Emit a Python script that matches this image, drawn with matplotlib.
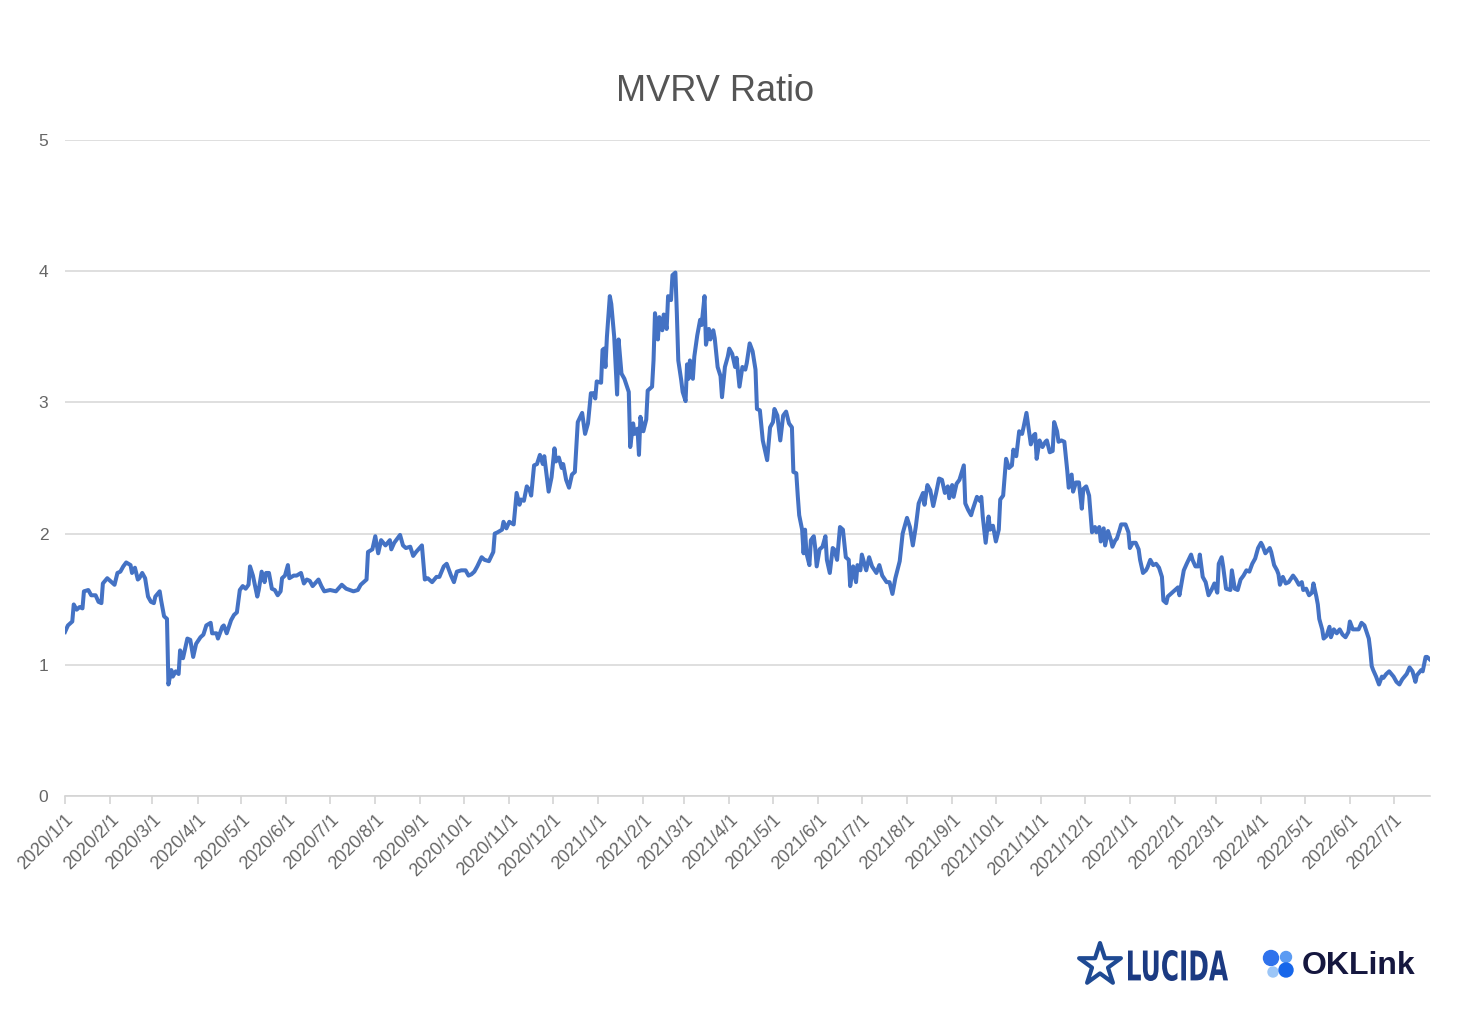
import numpy as np
import matplotlib
matplotlib.use('Agg')
import matplotlib.pyplot as plt
import matplotlib.dates as mdates
from matplotlib.patches import Circle, PathPatch
from matplotlib.textpath import TextPath
from matplotlib.font_manager import FontProperties
from matplotlib.transforms import Affine2D
from matplotlib.ticker import FuncFormatter

plt.rcParams['font.family'] = ['Liberation Sans', 'DejaVu Sans']

START = '2020-01-01'
END = '2022-07-26'

# days since 2020-01-01 and MVRV
days = [
    0, 2, 5, 6, 8, 10, 12, 13, 16, 18, 21, 23, 25, 26, 29, 31, 34, 36, 38, 40,
    42, 45, 46, 48, 50, 51, 53, 55, 57, 59, 61, 62, 65, 66, 68, 70, 71, 73, 74, 76,
    78, 79, 81, 84, 86, 88, 90, 93, 95, 97, 100, 101, 104, 105, 108, 109, 111, 114, 116, 118,
    120, 122, 124, 126, 127, 129, 132, 133, 135, 137, 138, 140, 142, 144, 146, 148, 149, 151, 153, 154,
    157, 159, 162, 164, 166, 168, 170, 174, 176, 178, 182, 186, 190, 193, 198, 201, 203, 207, 208, 211,
    213, 215, 217, 220, 223, 224, 226, 230, 232, 234, 237, 239, 241, 245, 247, 249, 252, 255, 257, 260,
    262, 265, 267, 269, 272, 275, 277, 279, 281, 283, 286, 288, 291, 294, 295, 297, 300, 301, 303, 305,
    308, 310, 312, 313, 315, 317, 319, 320, 322, 324, 326, 328, 329, 332, 334, 336, 337, 339, 341, 342,
    344, 346, 348, 350, 352, 355, 357, 359, 361, 363, 364, 365, 368, 369, 370, 371, 372, 374, 375, 377,
    379, 380, 382, 384, 387, 388, 390, 391, 393, 394, 395, 397, 399, 400, 403, 404, 405, 407, 408, 410,
    411, 413, 414, 416, 417, 419, 420, 421, 423, 424, 426, 427, 428, 429, 431, 432, 434, 436, 437, 439,
    440, 442, 443, 445, 446, 448, 450, 451, 453, 455, 456, 458, 460, 461, 463, 465, 467, 468, 470, 472,
    474, 475, 477, 479, 482, 484, 486, 487, 489, 491, 493, 495, 497, 499, 500, 502, 503, 504, 506, 507,
    508, 509, 511, 512, 514, 515, 516, 518, 520, 522, 523, 525, 527, 528, 530, 532, 534, 536, 538, 539,
    541, 543, 544, 546, 547, 550, 552, 554, 557, 559, 561, 564, 566, 568, 570, 573, 575, 578, 580, 582,
    584, 586, 589, 590, 592, 594, 596, 598, 600, 602, 604, 606, 607, 609, 610, 612, 614, 617, 618, 620,
    622, 623, 626, 628, 629, 630, 632, 634, 635, 637, 639, 641, 642, 644, 646, 648, 650, 651, 653, 655,
    657, 658, 660, 661, 663, 665, 666, 667, 669, 671, 673, 674, 676, 678, 679, 681, 682, 684, 686, 688,
    689, 691, 692, 694, 696, 698, 699, 701, 703, 705, 707, 708, 710, 711, 713, 714, 716, 718, 719, 721,
    722, 724, 725, 728, 730, 731, 733, 735, 737, 738, 740, 742, 743, 745, 747, 749, 751, 753, 754, 756,
    757, 760, 762, 764, 765, 768, 770, 773, 774, 776, 778, 779, 781, 783, 785, 787, 789, 791, 792, 794,
    795, 797, 800, 801, 803, 805, 807, 809, 811, 813, 815, 817, 819, 821, 822, 824, 827, 828, 830, 832,
    833, 834, 836, 838, 840, 843, 845, 847, 849, 850, 852, 854, 856, 857, 859, 860, 861, 863, 864, 866,
    868, 869, 871, 873, 875, 877, 879, 881, 882, 884, 886, 888, 890, 892, 895, 896, 897, 898, 900, 902,
    904, 905, 907, 909, 912, 914, 916, 918, 921, 923, 925, 927, 928, 931, 932, 934, 935, 937,
]
mvrv = [
    1.25, 1.30, 1.33, 1.46, 1.42, 1.44, 1.43, 1.56, 1.57, 1.53, 1.53, 1.48, 1.47, 1.62, 1.66, 1.64, 1.61, 1.70, 1.71, 1.75,
    1.78, 1.76, 1.70, 1.74, 1.65, 1.66, 1.70, 1.66, 1.52, 1.48, 1.47, 1.52, 1.56, 1.49, 1.37, 1.35, 0.85, 0.96, 0.91, 0.95,
    0.93, 1.11, 1.05, 1.20, 1.19, 1.06, 1.16, 1.21, 1.23, 1.30, 1.32, 1.24, 1.24, 1.20, 1.29, 1.30, 1.24, 1.34, 1.38, 1.40,
    1.57, 1.60, 1.58, 1.61, 1.75, 1.68, 1.52, 1.57, 1.71, 1.63, 1.70, 1.70, 1.58, 1.57, 1.53, 1.56, 1.66, 1.68, 1.76, 1.66,
    1.68, 1.68, 1.70, 1.62, 1.65, 1.64, 1.60, 1.65, 1.60, 1.56, 1.57, 1.56, 1.61, 1.58, 1.56, 1.57, 1.61, 1.65, 1.86, 1.88,
    1.98, 1.85, 1.95, 1.91, 1.95, 1.88, 1.93, 1.99, 1.91, 1.89, 1.90, 1.83, 1.86, 1.91, 1.65, 1.66, 1.63, 1.67, 1.67, 1.75,
    1.77, 1.68, 1.63, 1.71, 1.72, 1.72, 1.68, 1.69, 1.71, 1.75, 1.82, 1.80, 1.79, 1.86, 2.00, 2.01, 2.03, 2.09, 2.04, 2.09,
    2.07, 2.31, 2.22, 2.26, 2.25, 2.36, 2.33, 2.29, 2.52, 2.53, 2.60, 2.53, 2.59, 2.32, 2.43, 2.65, 2.55, 2.58, 2.50, 2.53,
    2.41, 2.35, 2.45, 2.47, 2.85, 2.92, 2.76, 2.84, 3.07, 3.07, 3.03, 3.16, 3.15, 3.40, 3.41, 3.27, 3.50, 3.81, 3.75, 3.50,
    3.06, 3.48, 3.22, 3.18, 3.08, 2.66, 2.84, 2.76, 2.80, 2.60, 2.89, 2.78, 2.87, 3.09, 3.12, 3.32, 3.68, 3.48, 3.65, 3.55,
    3.67, 3.56, 3.81, 3.78, 3.97, 3.99, 3.68, 3.32, 3.17, 3.08, 3.01, 3.29, 3.18, 3.32, 3.18, 3.35, 3.51, 3.63, 3.59, 3.81,
    3.44, 3.56, 3.48, 3.55, 3.49, 3.27, 3.20, 3.04, 3.27, 3.35, 3.41, 3.37, 3.27, 3.34, 3.12, 3.27, 3.25, 3.30, 3.45, 3.39,
    3.25, 2.95, 2.94, 2.71, 2.56, 2.81, 2.85, 2.95, 2.90, 2.71, 2.90, 2.93, 2.84, 2.81, 2.47, 2.46, 2.29, 2.14, 2.03, 1.85,
    2.03, 1.85, 1.76, 1.95, 1.98, 1.89, 1.75, 1.88, 1.90, 1.98, 1.80, 1.70, 1.89, 1.88, 1.80, 2.05, 2.03, 1.82, 1.80, 1.60,
    1.75, 1.63, 1.76, 1.72, 1.84, 1.72, 1.82, 1.75, 1.70, 1.76, 1.68, 1.63, 1.63, 1.54, 1.66, 1.79, 2.00, 2.12, 2.05, 1.91,
    2.05, 2.23, 2.31, 2.22, 2.37, 2.33, 2.21, 2.31, 2.42, 2.41, 2.31, 2.36, 2.27, 2.37, 2.28, 2.38, 2.41, 2.52, 2.23, 2.18,
    2.14, 2.18, 2.28, 2.25, 2.28, 2.13, 1.93, 2.13, 2.03, 2.06, 1.94, 2.03, 2.26, 2.29, 2.57, 2.50, 2.52, 2.64, 2.59, 2.78,
    2.76, 2.81, 2.92, 2.84, 2.68, 2.75, 2.76, 2.57, 2.71, 2.66, 2.70, 2.71, 2.62, 2.63, 2.85, 2.78, 2.70, 2.71, 2.70, 2.48,
    2.35, 2.45, 2.32, 2.39, 2.39, 2.19, 2.34, 2.36, 2.29, 2.01, 2.05, 2.01, 2.05, 1.94, 2.04, 1.91, 2.02, 1.95, 1.90, 1.95,
    1.96, 2.03, 2.07, 2.07, 2.01, 1.89, 1.93, 1.93, 1.88, 1.80, 1.70, 1.72, 1.74, 1.80, 1.76, 1.77, 1.74, 1.67, 1.49, 1.47,
    1.52, 1.55, 1.57, 1.59, 1.53, 1.72, 1.77, 1.84, 1.80, 1.75, 1.75, 1.84, 1.67, 1.63, 1.53, 1.57, 1.62, 1.55, 1.77, 1.82,
    1.75, 1.58, 1.57, 1.72, 1.58, 1.57, 1.65, 1.68, 1.72, 1.71, 1.77, 1.81, 1.89, 1.93, 1.91, 1.85, 1.89, 1.86, 1.76, 1.72,
    1.69, 1.61, 1.67, 1.62, 1.63, 1.68, 1.65, 1.61, 1.63, 1.57, 1.58, 1.53, 1.55, 1.62, 1.52, 1.46, 1.35, 1.27, 1.20, 1.22,
    1.29, 1.21, 1.27, 1.24, 1.27, 1.23, 1.21, 1.25, 1.33, 1.27, 1.27, 1.27, 1.32, 1.30, 1.20, 1.11, 0.99, 0.96, 0.91, 0.85,
    0.91, 0.90, 0.93, 0.95, 0.91, 0.87, 0.85, 0.89, 0.93, 0.98, 0.95, 0.87, 0.92, 0.96, 0.95, 1.06, 1.06, 1.04,
]

dates = np.datetime64(START) + np.array(days).astype('timedelta64[D]')

fig = plt.figure(figsize=(14.84, 10.32), dpi=100)
ax = fig.add_axes([0.0438, 0.2287, 0.9198, 0.6356])

ax.plot(dates, mvrv, color='#4472C4', lw=2.9, solid_joinstyle='round')

ax.set_ylim(0, 5)
ax.set_xlim(np.datetime64(START), np.datetime64(END))
ax.set_yticks([0, 1, 2, 3, 4, 5])
ax.grid(axis='y', color='#d9d9d9', lw=1.2)
ax.set_axisbelow(True)
for s in ['left', 'right', 'top']:
    ax.spines[s].set_visible(False)
ax.spines['bottom'].set_color('#d4d4d4')
ax.spines['bottom'].set_linewidth(1.2)

ax.xaxis.set_major_locator(mdates.MonthLocator())
ax.xaxis.set_major_formatter(FuncFormatter(
    lambda v, pos: '{0.year}/{0.month}/{0.day}'.format(mdates.num2date(v))))
ax.tick_params(axis='x', colors='#d4d4d4', length=6, width=1.2, labelcolor='#666666',
               labelsize=13, pad=5)
ax.tick_params(axis='y', length=0, labelcolor='#666666', labelsize=12.5, pad=12)
for lbl in ax.get_xticklabels():
    lbl.set_rotation(45)
    lbl.set_ha('right')
    lbl.set_rotation_mode('anchor')

fig.text(0.482, 0.911, 'MVRV Ratio', ha='center', va='center', fontsize=26, color='#555555')

# logos, bottom right (overlay in pixel coordinates, y pointing down)
lay = fig.add_axes([0, 0, 1, 1])
lay.set_xlim(0, 1484)
lay.set_ylim(1032, 0)
lay.axis('off')
lay.scatter([1100], [965], marker='*', s=1000, facecolor='none', edgecolor='#1f4a93', lw=3)

tp = TextPath((0, 0), 'LUCIDA', size=40, prop=FontProperties(family='DejaVu Sans', weight='bold'))
bb = tp.get_extents()
sx = 100 / bb.width
sy = 31 / bb.height
tr = Affine2D().translate(-bb.x0, -bb.y0).scale(sx, -sy).translate(1128, 981)
lay.add_patch(PathPatch(tr.transform_path(tp), color='#1b3a82', lw=0))

for cx, cy, r, c in [(1271, 958, 7.5, '#2f72ec'), (1286, 957, 5.5, '#5b9bf3'),
                     (1273, 972, 5, '#9cc6f7'), (1286, 970, 7, '#1666ea')]:
    lay.add_patch(Circle((cx, cy), r, color=c))
lay.text(1302, 966, 'OKLink', fontsize=23, color='#15173f', weight='bold',
         va='center', ha='left')

fig.savefig('out.png', dpi=100, facecolor='white')
